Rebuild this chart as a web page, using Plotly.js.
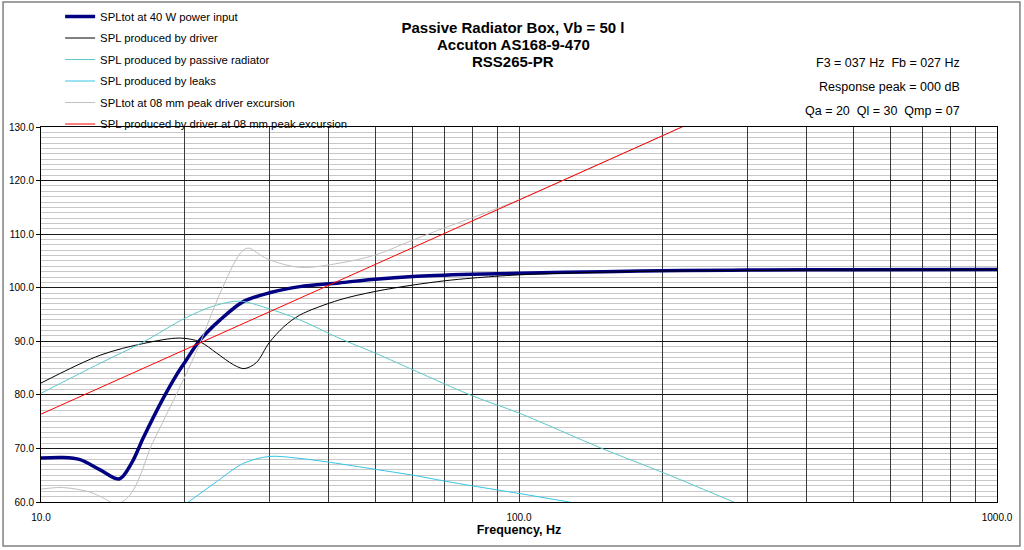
<!DOCTYPE html>
<html>
<head>
    <meta charset='utf-8'>
    <title>Passive Radiator Box</title>
    <script src="https://cdn.plot.ly/plotly-3.0.1.min.js"></script>
    <style>
        body { margin:0; background:#fff; }
        #chartDiv { width:1024px; height:550px; }
    </style>
</head>
<body>
    <div id="chartDiv"></div>

    <script>
        // values (Hz / dB)
        const totFreq = [10, 11.1, 12.07, 13.3, 14.58, 15.48, 16.37, 18, 19.2, 20, 21.5, 23.7, 26.5, 30.2, 34.8, 42, 50, 60, 80, 100, 150, 220, 300, 500, 1000];
        const totSpl  = [68.2, 68.3, 67.9, 66.0, 64.3, 67.3, 72.0, 79.3, 83.7, 86.1, 90.2, 94.0, 97.4, 99.1, 100.2, 100.9, 101.6, 102.1, 102.5, 102.7, 103.0, 103.2, 103.3, 103.35, 103.4];

        const drvFreq = [10, 13.3, 16.4, 19.5, 21.5, 23.3, 25.3, 26.6, 28.2, 30, 32.2, 34.8, 42, 50, 60, 70, 80, 100, 150, 200, 300, 500, 1000];
        const drvSpl  = [82.2, 87.4, 89.6, 90.6, 89.9, 87.8, 85.6, 84.9, 86.0, 89.7, 92.7, 94.9, 97.7, 99.3, 100.5, 101.3, 101.8, 102.4, 102.9, 103.1, 103.2, 103.3, 103.35];

        const prFreq = [10, 13.3, 16.4, 20, 23, 26, 29.7, 34.8, 42, 50, 80, 100, 150, 200, 290];
        const prSpl  = [80.3, 85.9, 89.9, 94.3, 96.6, 97.5, 96.2, 94.0, 90.6, 87.8, 79.8, 76.6, 69.9, 65.5, 59.5];

        const leakFreq = [20, 23.3, 26.5, 30, 34.3, 40.3, 50, 60, 70, 80, 100, 131];
        const leakSpl  = [59.5, 63.8, 67.2, 68.5, 68.2, 67.4, 66.1, 65.0, 63.9, 63.0, 61.6, 59.8];

        const xmaxFreq = [10, 11.1, 12.6, 13.6, 14.3, 15, 15.6, 16.3, 16.9, 18, 20, 21.5, 23.7, 26.1, 27.1, 29.7, 34.8, 42.2, 50, 60, 70, 80, 90, 100, 200, 300];
        const xmaxSpl  = [62.4, 62.7, 61.9, 60.6, 59.6, 60.4, 62.2, 66.0, 69.9, 75.0, 83.4, 89.6, 99.0, 106.4, 107.4, 105.4, 103.8, 104.6, 106.1, 108.9, 111.2, 113.1, 114.8, 116.4, 128.4, 135.5];

        const xdrvFreq = [10, 20, 50, 100, 200, 300];
        const xdrvSpl  = [76.4, 88.4, 104.4, 116.4, 128.4, 135.5];

        const seriesNames = [
            "SPLtot at 40 W power input",
            "SPL produced by driver",
            "SPL produced by passive radiator",
            "SPL produced by leaks",
            "SPLtot at 08 mm peak driver excursion",
            "SPL produced by driver at 08 mm peak excursion"
        ];

        // frequency grid: every 1..9 of each decade, labels on the decades only
        const xTickVals = [10, 20, 30, 40, 50, 60, 70, 80, 90, 100, 200, 300, 400, 500, 600, 700, 800, 900, 1000];
        const xTickText = ["10.0", "", "", "", "", "", "", "", "", "100.0", "", "", "", "", "", "", "", "", "1000.0"];

        const titleLines = ["Passive Radiator Box, Vb = 50 l", "Accuton AS168-9-470", "RSS265-PR"];
        const infoLines = [
            "F3 = 037 Hz\u00a0\u00a0Fb = 027 Hz",
            "Response peak = 000 dB",
            "Qa = 20\u00a0\u00a0Ql = 30\u00a0\u00a0Qmp = 07"
        ];

        const FONT = "Liberation Sans, Arial, sans-serif";
        const chartDiv = document.getElementById("chartDiv");

        const makeTrace = (x, y, idx, color, width, shape) => ({
            x : x,
            y : y,
            type : 'scatter',
            mode : 'lines',
            name : seriesNames[idx],
            legendgroup : 'g' + idx,
            line : { color : color, width : width, shape : shape, smoothing : 0.9 },
            hoverinfo : 'skip',
        });

        const traces = [
            makeTrace(totFreq, totSpl, 0, '#000080', 3.5, 'spline'),
            makeTrace(drvFreq, drvSpl, 1, '#000000', 1, 'spline'),
            makeTrace(prFreq, prSpl, 2, '#5cc8c8', 1, 'spline'),
            makeTrace(leakFreq, leakSpl, 3, '#33c6e6', 1, 'spline'),
            makeTrace(xmaxFreq, xmaxSpl, 4, '#c0c0c0', 1, 'spline'),
            makeTrace(xdrvFreq, xdrvSpl, 5, '#ff0000', 1, 'linear'),
        ];

        // title lines 2 and 3 sit closer together than plotly's <br> spacing
        const titleY = [1.2187, 1.1747];
        const annotations = titleLines.slice(1).map((t, i) => ({
            text : t, xref : 'paper', yref : 'paper',
            x : (513 - 41) / 956, y : titleY[i], xanchor : 'center', yanchor : 'middle',
            showarrow : false, font : { size : 15, family : FONT, color : '#000', weight : 'bold' },
        }));

        const infoY = [1.1714, 1.1076, 1.0427];
        infoLines.forEach((t, i) => annotations.push({
            text : t, xref : 'paper', yref : 'paper',
            x : 0.9634, y : infoY[i], xanchor : 'right', yanchor : 'middle',
            showarrow : false, font : { size : 12.5, family : FONT, color : '#000' },
        }));

        const layout = {
            width : 1024,
            height : 550,
            margin : { l : 41, r : 27, t : 127, b : 48, autoexpand : false },
            paper_bgcolor : '#ffffff',
            plot_bgcolor : '#ffffff',
            font : { family : FONT, color : '#000', size : 10 },
            showlegend : true,
            title : {
                text : titleLines[0],
                x : 513 / 1024, xanchor : 'center',
                yref : 'container', y : 1 - 28 / 550, yanchor : 'middle',
                font : { size : 15, family : FONT, weight : 'bold' },
            },
            legend : {
                x : 0.02, y : 1 - 2 / 550, yref : 'container', xanchor : 'left', yanchor : 'top',
                bgcolor : 'rgba(0,0,0,0)', borderwidth : 0,
                font : { size : 11.3, family : FONT },
                tracegroupgap : 2.5,
                itemclick : false,
            },
            xaxis : {
                type : 'log',
                range : [1, 3],
                tickmode : 'array',
                tickvals : xTickVals,
                ticktext : xTickText,
                ticks : '',
                ticklabelstandoff : 6,
                showgrid : true,
                gridcolor : '#3a3a3a',
                gridwidth : 1,
                showline : true, mirror : true, linecolor : '#000', linewidth : 1,
                zeroline : false,
                tickfont : { size : 10 },
                title : { text : 'Frequency, Hz', font : { size : 12.5, weight : 'bold' }, standoff : 2 },
            },
            yaxis : {
                range : [60, 130],
                tick0 : 60,
                dtick : 10,
                tickformat : '.1f',
                ticks : 'outside', ticklen : 4, tickcolor : '#000',
                showgrid : true,
                gridcolor : '#1a1a1a',
                gridwidth : 1,
                minor : { dtick : 1, showgrid : true, gridcolor : '#c8c8c8', gridwidth : 1, ticks : '' },
                showline : true, mirror : true, linecolor : '#000', linewidth : 1,
                zeroline : false,
                tickfont : { size : 10 },
            },
            shapes : [{
                type : 'rect', xref : 'paper', yref : 'paper', layer : 'below',
                x0 : -0.0397, x1 : 1.024, y0 : -0.1173, y1 : 1.3333,
                line : { color : '#808080', width : 1.5 },
            }],
            annotations : annotations,
        };

        Plotly.newPlot(chartDiv, traces, layout, { staticPlot : true });
    </script>
</body>
</html>
